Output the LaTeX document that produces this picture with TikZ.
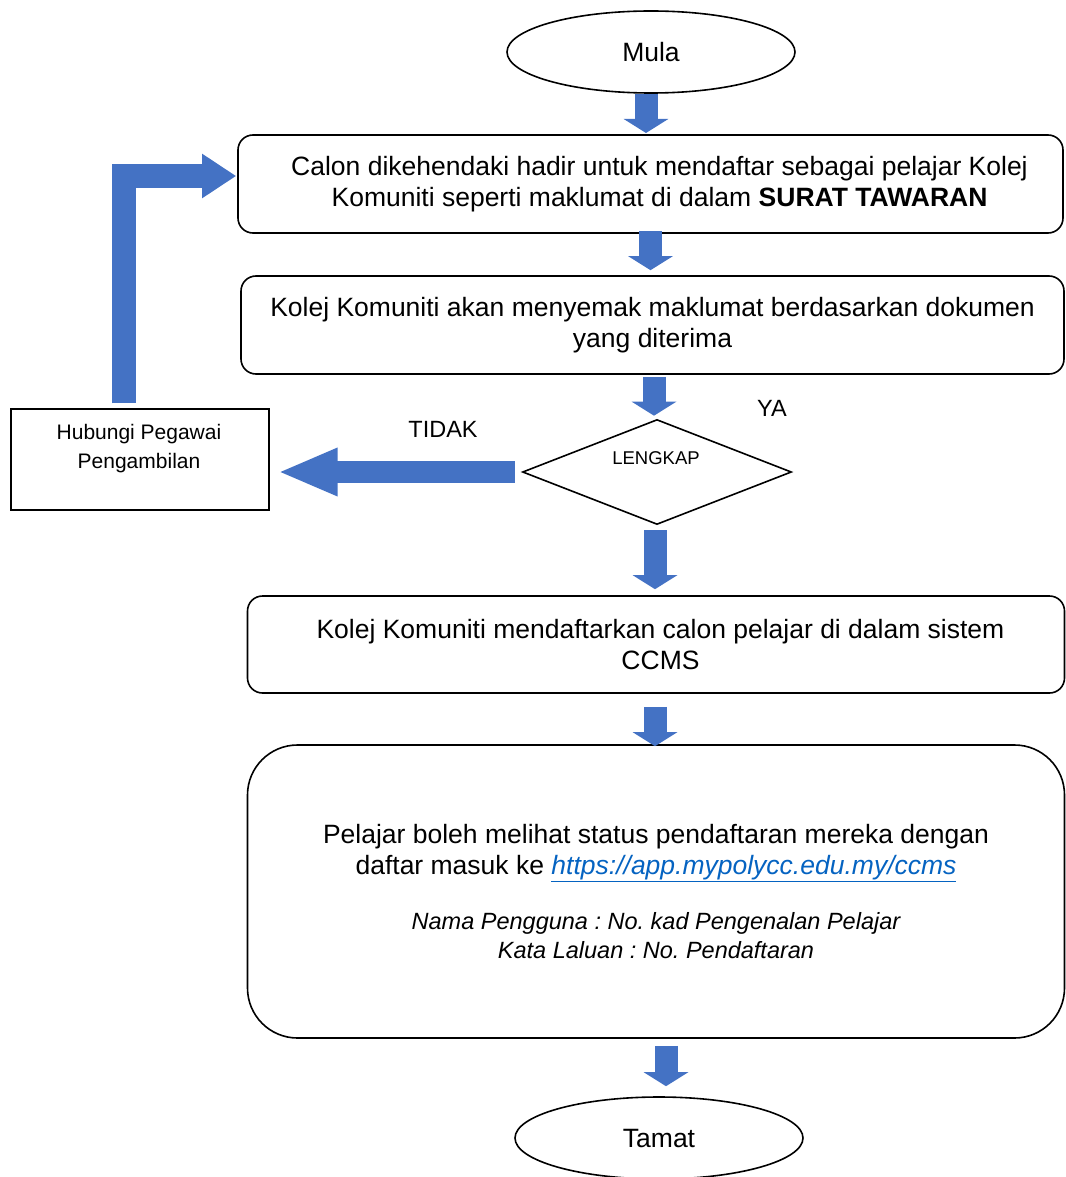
\documentclass[tikz,border=0pt]{standalone}
\usepackage{fontspec}
\setmainfont{Liberation Sans}
\usetikzlibrary{shapes.geometric,arrows.meta,calc}
\definecolor{arrowblue}{RGB}{68,114,196}
\definecolor{linkblue}{RGB}{5,99,193}
\begin{document}
\frenchspacing
\begin{tikzpicture}[x=1pt,y=1pt,
  big/.style={font=\fontsize{26.5}{31}\selectfont},
  mid/.style={font=\fontsize{23.5}{29}\selectfont},
  small/.style={font=\fontsize{18.5}{29}\selectfont},
  hubfont/.style={font=\fontsize{21}{29}\selectfont},
  terminal/.style={ellipse,draw,line width=1.6pt,minimum width=288pt,minimum height=82pt,inner sep=0pt,big},
  procbox/.style={draw,line width=1.6pt,rounded corners=15pt,align=center,inner sep=0pt,big},
  decision/.style={diamond,draw,line width=1.6pt,minimum width=269pt,minimum height=105pt,inner sep=0pt},
  plainbox/.style={draw,line width=1.4pt,minimum width=258pt,minimum height=101pt,inner sep=0pt},
  barrow/.style={draw=arrowblue,line width=23pt,line cap=butt,-{Triangle[width=44pt,length=14pt]},arrowblue},
  sidearrow/.style={draw=arrowblue,line width=22pt,line cap=butt,-{Triangle[width=44pt,length=60pt]},arrowblue},
  elbowarrow/.style={draw=arrowblue,line width=24pt,line cap=butt,line join=miter,-{Triangle[width=42pt,length=34pt]},arrowblue}
]
\useasboundingbox (0,0) rectangle (1065,-1177);

\node[terminal] (mula) at (651,-52) {Mula};
\node[procbox,minimum width=825pt,minimum height=98pt] (box1) at (650.5,-184)
  {\hspace*{18pt}Calon dikehendaki hadir untuk mendaftar sebagai pelajar Kolej\\\hspace*{18pt}Komuniti seperti maklumat di dalam \textbf{SURAT TAWARAN}};
\node[procbox,minimum width=823pt,minimum height=98pt] (box2) at (652.5,-325)
  {Kolej Komuniti akan menyemak maklumat berdasarkan dokumen\\yang diterima};
\node[decision] (lengkap) at (657,-472) {};
\node[small] (lengkaptext) at (656,-458) {LENGKAP};
\node[mid] (ya) at (772,-408) {YA};
\node[mid] (tidak) at (443,-429) {TIDAK};
\node[plainbox] (hub) at (140,-459.5) {};
\node[hubfont,align=center] (hubtext) at (139,-449) {Hubungi Pegawai\\Pengambilan};
\node[procbox,minimum width=817pt,minimum height=97pt] (box3) at (656,-644.5)
  {\hspace*{9pt}Kolej Komuniti mendaftarkan calon pelajar di dalam sistem\\\hspace*{9pt}CCMS};
\node[procbox,rounded corners=50pt,minimum width=817pt,minimum height=293pt] (box4) at (656,-891.5)
  {Pelajar boleh melihat status pendaftaran mereka dengan\\daftar masuk ke {\color{linkblue}\underline{\textit{https://app.mypolycc.edu.my/ccms}}}\\[24pt]
   {\fontsize{23.5}{29}\selectfont\itshape Nama Pengguna : No. kad Pengenalan Pelajar}\\[-2pt]{\fontsize{23.5}{29}\selectfont\itshape Kata Laluan : No. Pendaftaran}};
\node[terminal] (tamat) at (659,-1138) {Tamat};

\draw[barrow] ([xshift=-5pt]mula.south) -- ([xshift=-5pt]mula.south |- 0,-133);
\draw[barrow] ([yshift=3pt]box1.south) -- ([yshift=5pt]box1.south |- box2.north);
\draw[barrow] ([xshift=1.5pt,yshift=-2pt]box2.south) -- ([xshift=1.5pt,yshift=3pt]box2.south |- lengkap.north);
\draw[barrow] ([xshift=-2pt,yshift=-5pt]lengkap.south) -- ([xshift=-2pt,yshift=6pt]lengkap.south |- box3.north);
\draw[barrow] ([xshift=-1pt,yshift=-13pt]box3.south) -- ([xshift=-1pt,yshift=-2pt]box3.south |- box4.north);
\draw[barrow] ([xshift=10pt,yshift=-7pt]box4.south) -- ([xshift=10pt,yshift=10pt]box4.south |- tamat.north);
\draw[sidearrow] ([xshift=-7pt]lengkap.west) -- ([xshift=8pt]lengkap.west -| hub.east);
\coordinate (elbowstart) at ($(hub.north)+(-16,5)$);
\draw[elbowarrow] (elbowstart) |- ([xshift=-1pt,yshift=8pt]box1.west);
\end{tikzpicture}
\end{document}
